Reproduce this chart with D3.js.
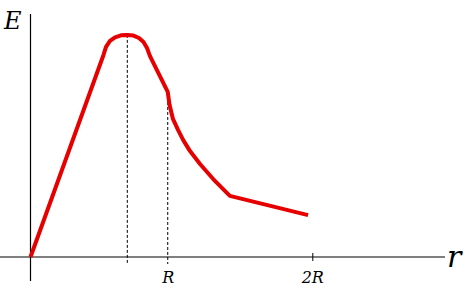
<!DOCTYPE html>
<html>
<head>
<meta charset="utf-8">
<script src="https://cdn.jsdelivr.net/npm/d3@7"></script>
<style>
  body { margin: 0; background: #fff; }
  svg { display: block; }
  .lbl { font-family: "DejaVu Serif", serif; font-style: italic; }
</style>
</head>
<body>
<svg></svg>
<script>
const width = 470;
const height = 292;

// r in units of R, E in units of the peak value
const rValues = [0, 0.518, 0.536, 0.564, 0.600, 0.642, 0.687, 0.731, 0.770, 0.802, 0.827, 0.848, 0.974, 0.987, 1.011, 1.047, 1.083, 1.132, 1.203, 1.309, 1.415, 1.970];
const eValues = [0, 0.906, 0.942, 0.969, 0.985, 0.994, 0.996, 0.993, 0.982, 0.964, 0.937, 0.901, 0.740, 0.682, 0.619, 0.570, 0.525, 0.475, 0.417, 0.341, 0.274, 0.188];

const guideR = [0.687, 0.974];   // dashed drop lines
const tickValues = [0.974, 2];
const tickLabels = ['R', '2R'];

const svg = d3.select('svg')
  .attr('width', width)
  .attr('height', height);

const x = d3.scaleLinear().domain([0, 2]).range([30.5, 312.3]);
const y = d3.scaleLinear().domain([0, 1]).range([257, 34]);

const xAxisStart = 0, xAxisEnd = 445;
const yAxisTop = 14, yAxisBottom = 281;

// dashed guides
svg.append('g').selectAll('line')
  .data(guideR)
  .join('line')
    .attr('x1', (d) => x(d))
    .attr('x2', (d) => x(d))
    .attr('y1', (d) => y(eValues[rValues.indexOf(d)]))
    .attr('y2', 264)
    .attr('stroke', '#000')
    .attr('stroke-width', 1)
    .attr('stroke-dasharray', '3,2');

// axes
svg.append('line')
  .attr('x1', xAxisStart).attr('x2', xAxisEnd)
  .attr('y1', y(0)).attr('y2', y(0))
  .attr('stroke', '#000').attr('stroke-width', 1.2);

svg.append('line')
  .attr('x1', x(0)).attr('x2', x(0))
  .attr('y1', yAxisTop).attr('y2', yAxisBottom)
  .attr('stroke', '#000').attr('stroke-width', 1.2);

const xAxis = d3.axisBottom(x)
  .tickValues(tickValues)
  .tickFormat((d, i) => tickLabels[i])
  .tickSize(8)
  .tickPadding(11);

const ax = svg.append('g')
  .attr('transform', `translate(0,${y(0) - 4})`)
  .call(xAxis);
ax.select('.domain').remove();
ax.selectAll('.tick line').attr('stroke', (d, i) => i === 0 ? 'none' : '#000');
ax.selectAll('.tick text')
  .attr('class', 'lbl')
  .attr('font-size', 16)
  .attr('fill', '#000');

// curve
const line = d3.line()
  .x((d) => x(d[0]))
  .y((d) => y(d[1]));

svg.append('path')
  .datum(d3.zip(rValues, eValues))
  .attr('d', line)
  .attr('fill', 'none')
  .attr('stroke', '#e60000')
  .attr('stroke-width', 4)
  .attr('stroke-linejoin', 'round')
  .attr('stroke-linecap', 'butt');

// axis titles
svg.append('text')
  .attr('class', 'lbl')
  .attr('x', 4).attr('y', 29)
  .attr('font-size', 24)
  .text('E');

svg.append('text')
  .attr('class', 'lbl')
  .attr('x', 447).attr('y', 267)
  .attr('font-size', 30)
  .text('r');
</script>
</body>
</html>
